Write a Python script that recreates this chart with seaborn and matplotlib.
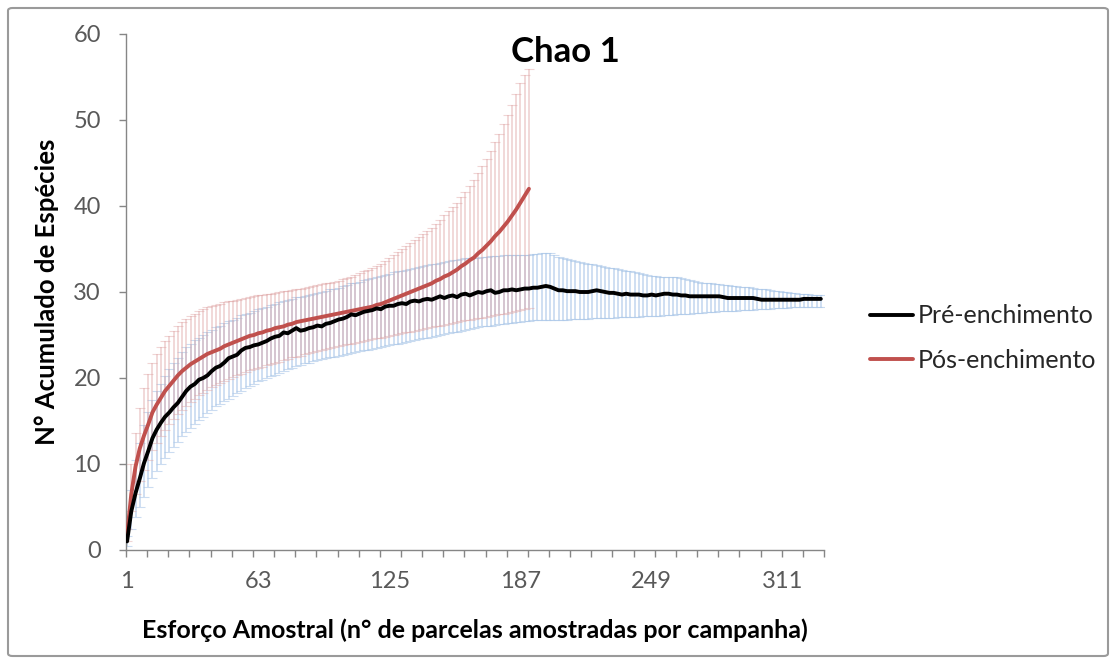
import numpy as np
import pandas as pd
import matplotlib
matplotlib.use("Agg")
import matplotlib.pyplot as plt
from matplotlib.patches import FancyBboxPatch
import seaborn as sns

# ---- data (every 2nd sample) ----
pre_x = list(range(1, 330, 2))
pre_mean = [
    1.0, 4.5, 6.6, 8.3, 10.1, 11.5, 13.0, 14.0, 14.8, 15.5,
    16.0, 16.6, 17.1, 17.8, 18.5, 19.0, 19.3, 19.8, 20.0, 20.3,
    20.8, 21.2, 21.4, 21.8, 22.3, 22.5, 22.7, 23.2, 23.5, 23.6,
    23.8, 23.9, 24.1, 24.3, 24.6, 24.8, 24.9, 25.3, 25.2, 25.5,
    25.8, 25.5, 25.6, 25.8, 25.9, 26.1, 26.0, 26.3, 26.4, 26.6,
    26.8, 26.9, 27.1, 27.4, 27.3, 27.5, 27.7, 27.8, 27.9, 28.1,
    28.0, 28.3, 28.4, 28.4, 28.6, 28.7, 28.6, 28.9, 29.0, 28.9,
    29.1, 29.2, 29.1, 29.3, 29.5, 29.3, 29.5, 29.6, 29.4, 29.7,
    29.8, 29.6, 29.8, 30.0, 29.9, 30.1, 30.2, 29.9, 30.0, 30.2,
    30.2, 30.3, 30.2, 30.3, 30.4, 30.4, 30.5, 30.5, 30.6, 30.7,
    30.6, 30.4, 30.2, 30.2, 30.1, 30.1, 30.1, 30.0, 30.0, 30.0,
    30.1, 30.2, 30.1, 30.0, 29.9, 29.9, 29.8, 29.7, 29.8, 29.7,
    29.7, 29.7, 29.6, 29.6, 29.7, 29.6, 29.7, 29.8, 29.8, 29.7,
    29.7, 29.6, 29.6, 29.5, 29.5, 29.5, 29.5, 29.5, 29.5, 29.5,
    29.5, 29.4, 29.3, 29.3, 29.3, 29.3, 29.3, 29.3, 29.3, 29.2,
    29.1, 29.1, 29.1, 29.1, 29.1, 29.1, 29.1, 29.1, 29.1, 29.1,
    29.2, 29.2, 29.2, 29.2, 29.2,
]
pre_upper = [
    1.6, 7.0, 10.5, 12.5, 14.5, 16.0, 17.5, 18.5, 19.3, 20.2,
    21.0, 21.7, 22.3, 23.0, 23.6, 24.0, 24.4, 24.7, 25.0, 25.3,
    25.6, 25.9, 26.1, 26.4, 26.6, 26.8, 27.0, 27.3, 27.5, 27.6,
    27.8, 28.0, 28.1, 28.3, 28.5, 28.6, 28.8, 29.0, 29.1, 29.2,
    29.4, 29.4, 29.5, 29.6, 29.8, 29.9, 30.0, 30.1, 30.3, 30.4,
    30.5, 30.7, 30.8, 31.0, 31.1, 31.2, 31.4, 31.5, 31.6, 31.8,
    31.9, 32.0, 32.1, 32.3, 32.4, 32.5, 32.6, 32.7, 32.8, 32.9,
    33.0, 33.1, 33.2, 33.3, 33.4, 33.5, 33.6, 33.7, 33.7, 33.8,
    33.9, 33.9, 34.0, 34.0, 34.1, 34.1, 34.2, 34.2, 34.2, 34.3,
    34.3, 34.3, 34.3, 34.3, 34.3, 34.3, 34.4, 34.4, 34.5, 34.5,
    34.5, 34.3, 34.1, 33.9, 33.8, 33.7, 33.6, 33.5, 33.4, 33.3,
    33.2, 33.1, 33.0, 32.9, 32.8, 32.8, 32.7, 32.6, 32.5, 32.4,
    32.3, 32.2, 32.1, 32.0, 31.9, 31.9, 31.8, 31.8, 31.7, 31.7,
    31.7, 31.6, 31.5, 31.4, 31.3, 31.2, 31.1, 31.0, 31.0, 30.9,
    30.9, 30.8, 30.8, 30.7, 30.7, 30.6, 30.6, 30.6, 30.5, 30.4,
    30.3, 30.3, 30.2, 30.1, 30.1, 30.0, 30.0, 29.9, 29.9, 29.8,
    29.8, 29.8, 29.7, 29.7, 29.7,
]
pre_lower = [
    0.5, 2.5, 3.8, 5.0, 6.2, 7.3, 8.4, 9.2, 10.0, 10.7,
    11.4, 12.0, 12.6, 13.2, 13.7, 14.2, 14.7, 15.1, 15.5, 15.9,
    16.3, 16.7, 17.0, 17.3, 17.6, 17.9, 18.2, 18.5, 18.8, 19.1,
    19.3, 19.6, 19.8, 20.0, 20.2, 20.4, 20.6, 20.8, 21.0, 21.2,
    21.4, 21.5, 21.7, 21.8, 22.0, 22.1, 22.2, 22.3, 22.4, 22.5,
    22.6, 22.7, 22.8, 22.9, 23.0, 23.1, 23.2, 23.3, 23.4, 23.5,
    23.6, 23.7, 23.8, 23.9, 24.0, 24.1, 24.2, 24.3, 24.4, 24.5,
    24.6, 24.7, 24.8, 24.9, 25.0, 25.1, 25.2, 25.3, 25.4, 25.5,
    25.6, 25.7, 25.8, 25.9, 26.0, 26.1, 26.1, 26.2, 26.3, 26.3,
    26.4, 26.4, 26.5, 26.5, 26.6, 26.6, 26.7, 26.7, 26.8, 26.8,
    26.8, 26.8, 26.8, 26.8, 26.8, 26.9, 26.9, 26.9, 26.9, 26.9,
    27.0, 27.0, 27.0, 27.0, 27.0, 27.0, 27.1, 27.1, 27.1, 27.1,
    27.1, 27.1, 27.2, 27.2, 27.2, 27.2, 27.2, 27.3, 27.3, 27.3,
    27.4, 27.4, 27.5, 27.5, 27.6, 27.6, 27.6, 27.7, 27.7, 27.7,
    27.8, 27.8, 27.8, 27.8, 27.8, 27.9, 27.9, 27.9, 27.9, 28.0,
    28.0, 28.0, 28.0, 28.1, 28.1, 28.1, 28.1, 28.2, 28.2, 28.2,
    28.2, 28.3, 28.3, 28.3, 28.3,
]

pos_x = list(range(1, 192, 2))
pos_mean = [
    1.7, 6.5, 9.7, 11.8, 13.3, 14.6, 16.0, 16.9, 17.7, 18.5,
    19.1, 19.7, 20.3, 20.8, 21.2, 21.6, 21.9, 22.2, 22.5, 22.8,
    23.0, 23.2, 23.4, 23.7, 23.9, 24.1, 24.3, 24.5, 24.7, 24.9,
    25.0, 25.2, 25.3, 25.5, 25.6, 25.8, 25.9, 26.0, 26.2, 26.3,
    26.5, 26.6, 26.7, 26.8, 26.9, 27.0, 27.1, 27.2, 27.3, 27.4,
    27.5, 27.6, 27.7, 27.8, 27.9, 28.0, 28.1, 28.2, 28.3, 28.5,
    28.6, 28.8, 29.0, 29.2, 29.4, 29.6, 29.8, 30.0, 30.2, 30.4,
    30.6, 30.8, 31.0, 31.3, 31.5, 31.8, 32.0, 32.3, 32.6, 33.0,
    33.3, 33.7, 34.0, 34.5, 34.9, 35.4, 35.9, 36.5, 37.0, 37.6,
    38.2, 38.9, 39.6, 40.4, 41.2, 42.0,
]
pos_upper = [
    2.5, 10.0, 13.6, 16.5, 18.8, 20.5, 21.8, 22.8, 23.6, 24.3,
    24.9, 25.5, 26.0, 26.5, 26.9, 27.2, 27.5, 27.8, 28.0, 28.2,
    28.4, 28.5, 28.6, 28.8, 28.9, 29.0, 29.1, 29.2, 29.3, 29.4,
    29.5, 29.6, 29.7, 29.8, 29.8, 29.9, 30.0, 30.1, 30.1, 30.2,
    30.3, 30.4, 30.5, 30.6, 30.7, 30.8, 30.9, 31.0, 31.1, 31.2,
    31.3, 31.5, 31.6, 31.8, 32.0, 32.2, 32.4, 32.6, 32.8, 33.0,
    33.3, 33.6, 33.9, 34.3, 34.6, 35.0, 35.3, 35.7, 36.0, 36.4,
    36.7, 37.1, 37.5, 37.9, 38.4, 38.9, 39.4, 39.9, 40.4, 41.0,
    41.6, 42.3, 43.0, 43.8, 44.6, 45.5, 46.4, 47.4, 48.4, 49.5,
    50.6, 51.8, 53.0, 54.3, 55.2, 55.9,
]
pos_lower = [
    1.0, 4.5, 6.5, 8.0, 9.3, 10.5, 11.6, 12.5, 13.3, 14.0,
    14.6, 15.2, 15.8, 16.3, 16.8, 17.2, 17.6, 18.0, 18.3, 18.6,
    18.9, 19.2, 19.4, 19.7, 19.9, 20.1, 20.3, 20.5, 20.7, 20.9,
    21.0, 21.2, 21.3, 21.5, 21.6, 21.8, 21.9, 22.1, 22.2, 22.4,
    22.5, 22.6, 22.8, 22.9, 23.0, 23.1, 23.3, 23.4, 23.5, 23.6,
    23.7, 23.8, 23.9, 24.0, 24.1, 24.2, 24.3, 24.4, 24.5, 24.6,
    24.7, 24.8, 24.9, 25.0, 25.1, 25.2, 25.3, 25.4, 25.5, 25.6,
    25.7, 25.8, 25.9, 26.0, 26.1, 26.2, 26.3, 26.4, 26.5, 26.6,
    26.7, 26.8, 26.9, 27.0, 27.0, 27.1, 27.2, 27.3, 27.4, 27.5,
    27.6, 27.7, 27.8, 27.9, 28.0, 28.1,
]

x_tick_labels = [1, 63, 125, 187, 249, 311]
y_ticks = [0, 10, 20, 30, 40, 50, 60]
series_names = ["Pré-enchimento", "Pós-enchimento"]
n_categories = 330

# ---- figure ----
sns.set_theme(style="white")
plt.rcParams["font.family"] = ["Lato", "DejaVu Sans"]

W, H = 1114, 664
fig = plt.figure(figsize=(W / 100, H / 100), dpi=100)
ax = fig.add_axes([126 / W, 1 - 550 / H, (824 - 126) / W, (550 - 34) / H])

pre = pd.DataFrame({"x": pre_x, "mean": pre_mean, "up": pre_upper, "lo": pre_lower})
pos = pd.DataFrame({"x": pos_x, "mean": pos_mean, "up": pos_upper, "lo": pos_lower})

ax.errorbar(pre["x"], pre["mean"],
            yerr=[pre["mean"] - pre["lo"], pre["up"] - pre["mean"]],
            fmt="none", ecolor="#A9C6E8", elinewidth=1.3, capsize=3.5,
            capthick=0.8, alpha=0.6, zorder=1)
ax.errorbar(pos["x"], pos["mean"],
            yerr=[pos["mean"] - pos["lo"], pos["up"] - pos["mean"]],
            fmt="none", ecolor="#DFA3A2", elinewidth=1.3, capsize=3.5,
            capthick=0.8, alpha=0.45, zorder=2)

sns.lineplot(data=pos, x="x", y="mean", color="#C0504D", linewidth=2.8,
             ax=ax, label=series_names[1], zorder=4)
sns.lineplot(data=pre, x="x", y="mean", color="#000000", linewidth=2.8,
             ax=ax, label=series_names[0], zorder=5)

ax.set_xlim(0.5, n_categories + 0.5)
ax.set_ylim(0, 60)

tick_col = "#595959"
axis_col = "#868686"
for s in ["top", "right"]:
    ax.spines[s].set_visible(False)
for s in ["left", "bottom"]:
    ax.spines[s].set_color(axis_col)
    ax.spines[s].set_linewidth(1.0)

ax.set_yticks(y_ticks)
ax.set_yticklabels([str(v) for v in y_ticks])
ax.set_xticks(np.arange(0.5, n_categories + 1, 10))
ax.set_xticklabels([])
ax.set_xticks(x_tick_labels, [str(v) for v in x_tick_labels], minor=True)
ax.tick_params(axis="x", which="major", direction="out", length=5,
               color=axis_col, width=1.0, bottom=True)
ax.tick_params(axis="x", which="minor", length=0, pad=15,
               labelsize=17, labelcolor=tick_col, bottom=True)
ax.tick_params(axis="y", direction="out", length=5, color=axis_col,
               width=1.0, pad=13, labelsize=17, labelcolor=tick_col, left=True)
ax.grid(False)

ax.set_xlabel("Esforço Amostral (n° de parcelas amostradas por campanha)",
              fontsize=18, fontweight="bold", color="#000000", labelpad=19)
ax.set_ylabel("N° Acumulado de Espécies", fontsize=18.5,
              fontweight="bold", color="#000000", labelpad=10)

fig.text(565 / W, 1 - 52 / H, "Chao 1", ha="center", va="center",
         fontsize=25, fontweight="bold", color="#000000")

handles, labels = ax.get_legend_handles_labels()
order = [labels.index(series_names[0]), labels.index(series_names[1])]
leg = ax.legend([handles[i] for i in order], [labels[i] for i in order],
                loc="center left", bbox_to_anchor=(870 / W, 1 - 338 / H),
                bbox_transform=fig.transFigure, frameon=False,
                fontsize=18, handlelength=1.7, handletextpad=0.2,
                labelspacing=0.85, borderaxespad=0, borderpad=0)
for t in leg.get_texts():
    t.set_color("#262626")

border = FancyBboxPatch((8 / W, 8 / H), (1100 / W), (648 / H),
                        boxstyle="round,pad=0,rounding_size=0.004",
                        transform=fig.transFigure, facecolor="none",
                        edgecolor="#9A9A9A", linewidth=1.5)
fig.patches.append(border)

fig.savefig("out.png", dpi=100)
